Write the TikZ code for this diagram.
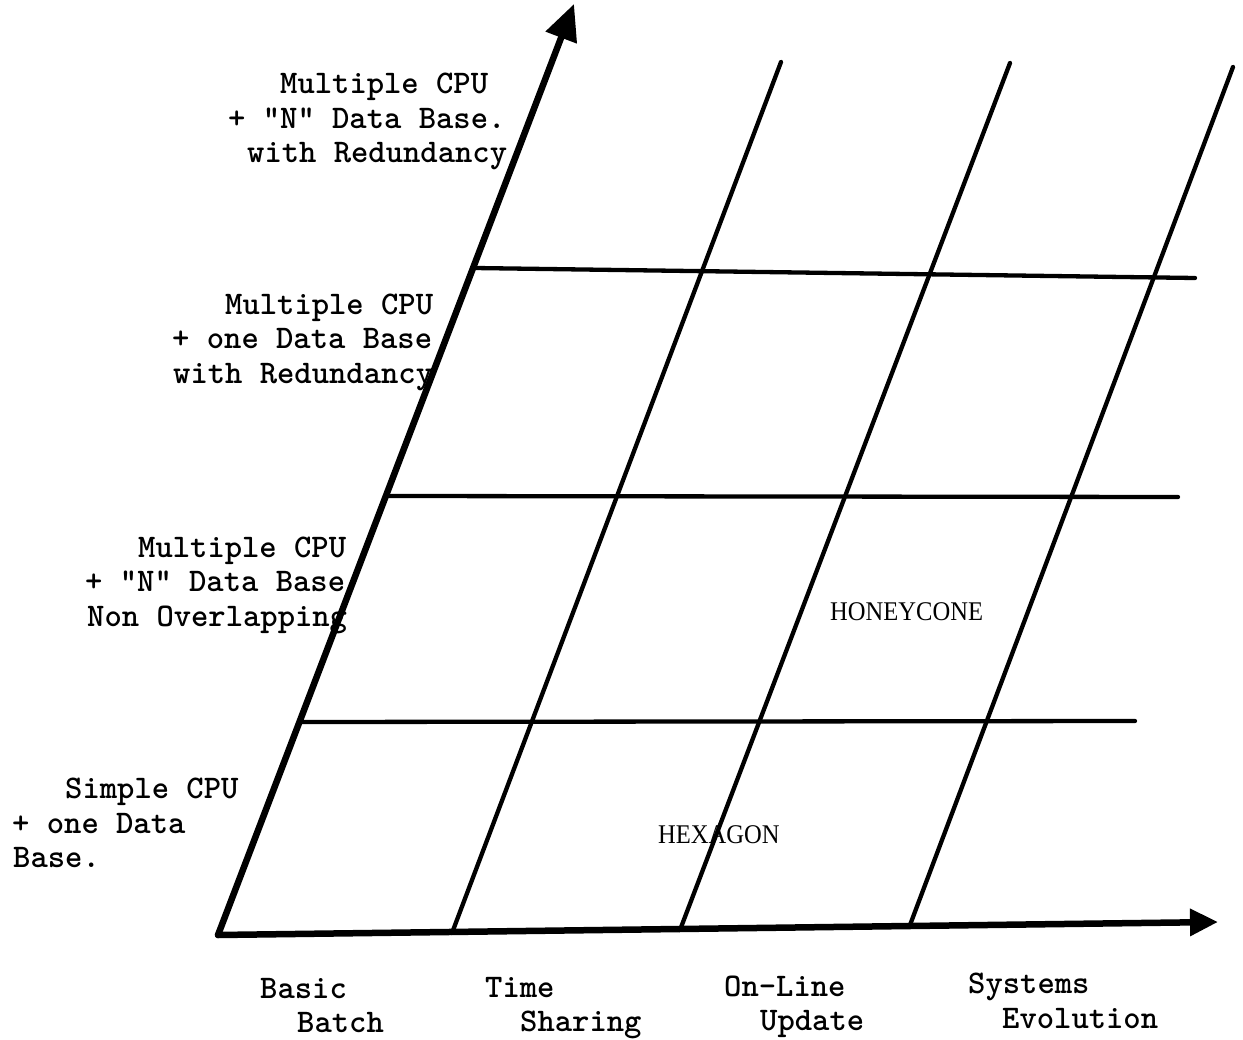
\documentclass[tikz,border=0pt]{standalone}
\usepackage{fontspec}
\newfontfamily\regionfont{Liberation Serif}
\usetikzlibrary{arrows.meta}
\begin{document}
\begin{tikzpicture}[x=1pt,y=-1pt,
  axisline/.style={line width=6.5pt, line cap=round},
  gridline/.style={line width=4.3pt, line cap=round},
  tw/.style={font=\fontsize{33}{40}\selectfont\ttfamily\bfseries, anchor=base west, inner sep=0pt},
  region/.style={font=\fontsize{27}{32}\selectfont\regionfont, anchor=base west, inner sep=0pt}]
\fill[white] (0,0) rectangle (1243,1040);
\useasboundingbox (0,0) rectangle (1243,1040);
% axes
\coordinate (O) at (218,935);
\coordinate (Ytip) at (574,4);
\coordinate (Xtip) at (1218,922);
\draw[axisline, -{Triangle[length=36pt,width=32pt]}] (O) -- (Ytip);
\draw[axisline, -{Triangle[length=28pt,width=26pt]}] (O) -- (Xtip);
% slanted grid lines
\coordinate (b1) at (452,933); \coordinate (t1) at (781,62);
\coordinate (b2) at (680,930); \coordinate (t2) at (1010,63);
\coordinate (b3) at (910,925); \coordinate (t3) at (1233,67);
\draw[gridline] (b1) -- (t1);
\draw[gridline] (b2) -- (t2);
\draw[gridline] (b3) -- (t3);
% horizontal grid lines
\coordinate (h1l) at (300,722); \coordinate (h1r) at (1135,721);
\coordinate (h2l) at (388,496); \coordinate (h2r) at (1178,497);
\coordinate (h3l) at (474,268); \coordinate (h3r) at (1195,278);
\draw[gridline] (h1l) -- (h1r);
\draw[gridline] (h2l) -- (h2r);
\draw[gridline] (h3l) -- (h3r);
% y-axis labels
\node[tw] (l1a) at (280,94) {Multiple CPU};
\node[tw] (l1b) at (228,129) {+ "N" Data Base.};
\node[tw] (l1c) at (247,163) {with Redundancy};
\node[tw] (l2a) at (225,315) {Multiple CPU};
\node[tw] (l2b) at (172,349) {+ one Data Base};
\node[tw] (l2c) at (173,384) {with Redundancy};
\node[tw] (l3a) at (138,557) {Multiple CPU};
\node[tw] (l3b) at (85,591) {+ "N" Data Base};
\node[tw] (l3c) at (87,626) {Non Overlapping};
\node[tw] (l4a) at (65,798) {Simple CPU};
\node[tw] (l4b) at (12,833) {+ one Data};
\node[tw] (l4c) at (13,867) {Base.};
% x-axis labels
\node[tw] (x1a) at (260,998) {Basic};
\node[tw] (x1b) at (297,1032) {Batch};
\node[tw] (x2a) at (485,997) {Time};
\node[tw] (x2b) at (520,1031) {Sharing};
\node[tw] (x3a) at (724,996) {On-Line};
\node[tw] (x3b) at (760,1030) {Update};
\node[tw] (x4a) at (968,993) {Systems};
\node[tw] (x4b) at (1002,1028) {Evolution};
% region labels
\node[region] (honey) at (830,620) {\scalebox{0.91}[1]{HONEYCONE}};
\node[region] (hexa) at (658,843) {\scalebox{0.91}[1]{HEXAGON}};
\end{tikzpicture}
\end{document}
